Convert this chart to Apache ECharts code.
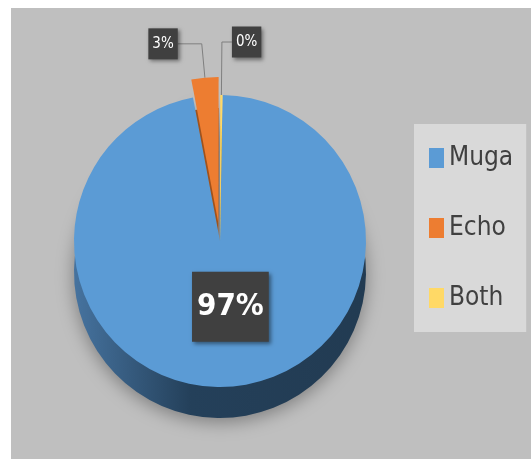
<!DOCTYPE html>
<html>
<head>
<meta charset="utf-8">
<script src="https://cdn.jsdelivr.net/npm/echarts@6/dist/echarts.min.js"></script>
<style>
  html, body { margin: 0; padding: 0; background: #ffffff; }
  #chart { position: absolute; left: 11px; top: 8px; width: 520px; height: 451px; }
</style>
</head>
<body>
<div id="chart"></div>
<script>
// data
var categories = ['Muga', 'Echo', 'Both'];
var values = [97, 3, 0.25];
var topColors = ['#5b9bd5', '#ed7d31', '#ffd966'];
var sideColors = ['#2b4a68', '#a0521c', '#b59a3c'];

var narrow = "'Liberation Sans Narrow', 'DejaVu Sans Condensed', sans-serif";

var myChart = echarts.init(document.getElementById('chart'));

function pct(p) {
    return Math.round(p.percent) + '%';
}

var topData = categories.map(function (name, i) {
    var item = { name: name, value: values[i], itemStyle: { color: topColors[i] } };
    if (name === 'Muga') {
        item.label = {
            position: 'inside',
            offset: [4, -10],
            fontSize: 31,
            fontWeight: 'bold',
            lineHeight: 34,
            padding: [18, 5, 18, 5]
        };
    }
    if (name === 'Echo') {
        item.selected = true;
        item.labelLine = { length: 34, length2: 24 };
    }
    if (name === 'Both') {
        item.labelLine = { length: 53, length2: 10 };
    }
    return item;
});

var sideData = categories.map(function (name, i) {
    var item = { name: name, value: values[i], itemStyle: { color: sideColors[i] } };
    if (name === 'Muga') {
        item.itemStyle.color = new echarts.graphic.LinearGradient(0, 0, 1, 0, [
            { offset: 0, color: '#46739f' },
            { offset: 0.4, color: '#24405a' },
            { offset: 1, color: '#223b52' }
        ]);
    }
    if (name === 'Echo') item.selected = true;
    return item;
});

var option = {
    backgroundColor: '#bfbfbf',
    animation: false,
    legend: {
        orient: 'vertical',
        left: 403,
        top: 116,
        backgroundColor: '#d9d9d9',
        padding: [19, 13, 19, 15],
        itemGap: 40,
        itemWidth: 15,
        itemHeight: 20,
        icon: 'rect',
        selectedMode: false,
        data: categories.map(function (name, i) {
            return { name: name, itemStyle: { color: topColors[i] } };
        }),
        textStyle: {
            color: '#404040',
            fontSize: 26,
            lineHeight: 30,
            fontFamily: narrow
        }
    },
    series: [
        {
            name: 'top',
            type: 'pie',
            z: 3,
            center: [209, 233],
            radius: [0, 146],
            startAngle: 89,
            selectedMode: 'single',
            selectedOffset: 18,
            avoidLabelOverlap: false,
            emphasis: { disabled: true },
            label: {
                show: true,
                position: 'outside',
                formatter: pct,
                color: '#ffffff',
                fontFamily: narrow,
                fontSize: 15,
                lineHeight: 19,
                backgroundColor: '#404040',
                padding: [6, 4],
                distanceToLabelLine: 0,
                shadowBlur: 4,
                shadowColor: 'rgba(0,0,0,0.45)',
                shadowOffsetX: 2,
                shadowOffsetY: 2
            },
            labelLine: {
                show: true,
                lineStyle: { color: '#7f7f7f', width: 1 }
            },
            data: topData
        },
        {
            // side of the 3d pie
            name: 'side',
            type: 'pie',
            z: 1,
            silent: true,
            center: [209, 264],
            radius: [0, 146],
            startAngle: 89,
            selectedMode: 'single',
            selectedOffset: 18,
            label: { show: false },
            labelLine: { show: false },
            itemStyle: {
                shadowBlur: 18,
                shadowColor: 'rgba(0,0,0,0.35)',
                shadowOffsetY: 4
            },
            data: sideData
        }
    ]
};

myChart.setOption(option);
window.addEventListener('resize', function () { myChart.resize(); });
</script>
</body>
</html>
